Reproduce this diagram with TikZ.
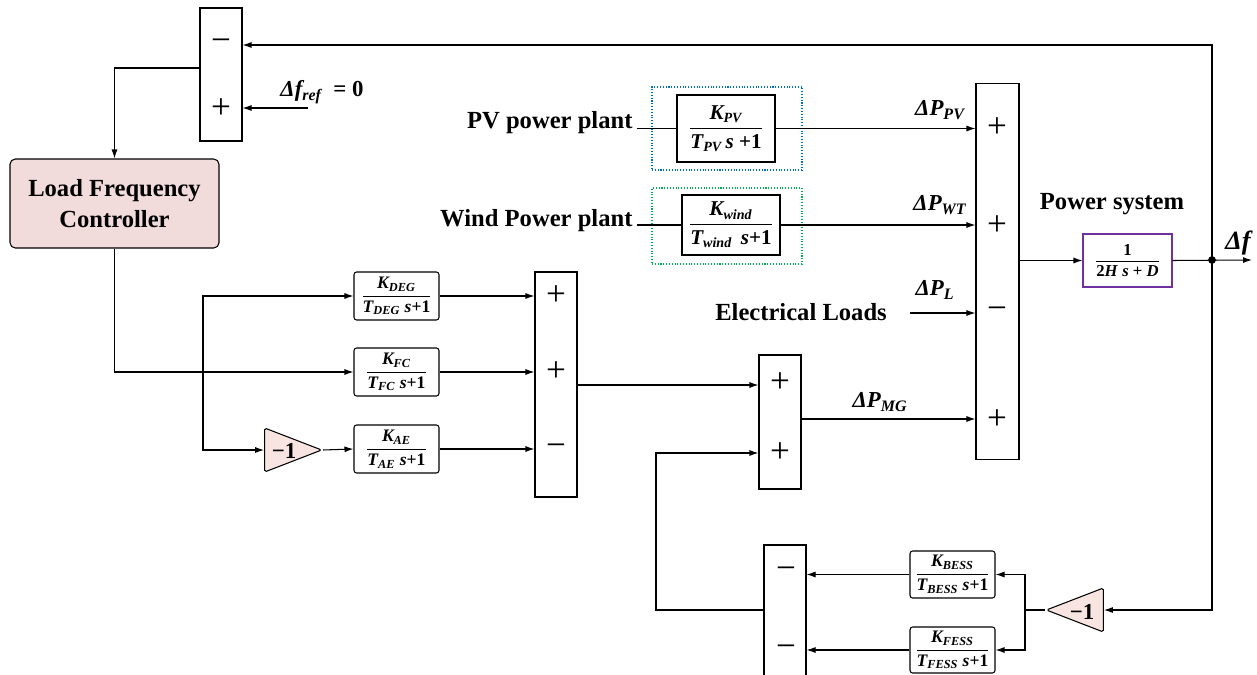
\documentclass[tikz,border=0pt]{standalone}
\usepackage{amsmath}
\usepackage{fontspec}
\setmainfont{Liberation Serif}
\usetikzlibrary{arrows.meta,shapes.geometric,calc}
\definecolor{lfcpink}{HTML}{F2DCDB}
\definecolor{gainpink}{HTML}{F8E5E2}
\definecolor{pvblue}{HTML}{0070C0}
\definecolor{windgreen}{HTML}{00B050}
\definecolor{pspurple}{HTML}{7030A0}
\newcommand\sbs[1]{\textsubscript{#1}}
\newcommand\ffrac[2]{$\dfrac{\text{#1}}{\text{#2}}$}
\begin{document}
\begin{tikzpicture}[x=0.02cm,y=-0.02cm, line width=0.6pt,
  >={Latex[length=1.8mm,width=1.2mm]},
  summer/.style={draw, minimum width=0.84cm, inner sep=0pt},
  sgn/.style={font=\fontsize{20}{20}\selectfont, inner sep=0pt},
  tfbox/.style={draw, rounded corners=1.5pt, minimum width=1.7cm, inner sep=0pt, font=\fontsize{10}{12}\selectfont\bfseries\itshape},
  plantbox/.style={draw, minimum width=1.96cm, inner sep=0pt, font=\fontsize{12}{14}\selectfont\bfseries\itshape},
  lbl/.style={font=\fontsize{14}{17.6}\selectfont\bfseries, inner sep=0pt},
  dlbl/.style={font=\fontsize{13}{15}\selectfont\bfseries\itshape, inner sep=0pt},
  gtxt/.style={font=\fontsize{13}{13}\selectfont\bfseries, inner sep=0pt},
  gain/.style={draw, fill=gainpink, isosceles triangle, isosceles triangle stretches, minimum width=0.88cm, minimum height=1.14cm, inner sep=0pt, rounded corners=1pt},
  ]
\clip (0,0) rectangle (1257,675);

% top summer
\node[summer, minimum height=2.66cm] (sA) at (221,74.5) {};
\node[sgn] at (221,45) {−};
\node[sgn] at (221,109) {+};
\node[dlbl] (fref) at (322,92) {Δf\sbs{ref}\ \ \textup{= 0}};
\coordinate (fin) at (308,108);

% LFC
\node[draw, fill=lfcpink, rounded corners=3pt, minimum width=4.18cm, minimum height=1.78cm, align=center, lbl] (lfc) at (114.5,203.5) {Load Frequency\\Controller};

% transfer functions
\node[tfbox, minimum height=0.96cm] (deg) at (396.5,296) {\ffrac{K\sbs{DEG}}{T\sbs{DEG} s\textup{+1}}};
\node[tfbox, minimum height=0.96cm] (fc) at (396.5,372) {\ffrac{K\sbs{FC}}{T\sbs{FC} s\textup{+1}}};
\node[tfbox, minimum height=0.96cm] (ae) at (396.5,449) {\ffrac{K\sbs{AE}}{T\sbs{AE} s\textup{+1}}};
\node[gain, anchor=apex] (gA) at (323,450) {};
\node[gtxt] at (284,451) {−1};
\coordinate (br) at (203,371);

% summer 2
\node[summer, minimum height=4.5cm] (s2) at (556,384.5) {};
\node[sgn] at (556,296) {+};
\node[sgn] at (556,372) {+};
\node[sgn] at (556,450) {−};

% summer 3
\node[summer, minimum height=2.68cm] (s3) at (780,422) {};
\node[sgn] at (780,383) {+};
\node[sgn] at (780,453) {+};

% summer 4
\node[summer, minimum height=3.0cm] (s4) at (785,620) {};
\node[sgn] at (786,573) {−};
\node[sgn] at (786,651) {−};
\coordinate (lp) at (656,610);

% storage
\node[tfbox, minimum height=0.94cm] (bess) at (952.5,574.5) {\ffrac{K\sbs{BESS}}{T\sbs{BESS} s\textup{+1}}};
\node[tfbox, minimum height=0.92cm] (fess) at (952.5,650) {\ffrac{K\sbs{FESS}}{T\sbs{FESS} s\textup{+1}}};
\node[gain, shape border rotate=180, anchor=apex] (gB) at (1045,610) {};
\node[gtxt] at (1082,612) {−1};
\coordinate (gsplit) at (1025,610);

% PV and wind
\node[draw=pvblue, densely dotted, minimum width=3cm, minimum height=1.66cm] (pvo) at (727,128.5) {};
\node[plantbox, minimum height=1.34cm] (pv) at (726,128.5) {\ffrac{K\sbs{PV}}{T\sbs{PV}\,s \textup{+1}}};
\node[draw=windgreen, densely dotted, minimum width=3cm, minimum height=1.52cm] (wdo) at (727,226) {};
\node[plantbox, minimum height=1.2cm] (wd) at (731,225) {\ffrac{K\sbs{wind}}{T\sbs{wind}\, s\textup{+1}}};
\node[lbl, anchor=base east] (pvt) at (633,129) {PV power plant};
\node[lbl, anchor=base east] (wt) at (633,227) {Wind Power plant};
\node[lbl] (elt) at (801,312) {Electrical Loads};
\coordinate (elin) at (910,313);

% big summer
\node[summer, minimum width=0.86cm, minimum height=7.54cm] (big) at (997.5,271.5) {};
\node[sgn] at (997,128) {+};
\node[sgn] at (997,226) {+};
\node[sgn] at (997,313) {−};
\node[sgn] at (997,420) {+};

% power system
\node[lbl] (pst) at (1112,204) {Power system};
\node[draw=pspurple, minimum width=1.78cm, minimum height=1.06cm, inner sep=0pt, font=\fontsize{9.5}{11}\selectfont\bfseries] (ps) at (1127.5,260.5) {$\dfrac{\text{1}}{\text{2\textit{H} \textit{s} + \textit{D}}}$};
\coordinate (J) at (1212,260);
\coordinate (fout) at (1252,260);

% labels
\node[dlbl] at (940,110) {ΔP\sbs{PV}};
\node[dlbl] at (940,205) {ΔP\sbs{WT}};
\node[dlbl] at (935,290) {ΔP\sbs{L}};
\node[dlbl] at (880,402) {ΔP\sbs{MG}};
\node[dlbl, font=\fontsize{15}{15}\selectfont\bfseries\itshape] at (1238,243) {Δf};

% connectors
\draw[->] (J) |- (sA.east |- 0,45);
\draw[->] (fin) -- (sA.east |- fin);
\draw[->] (sA.west |- 0,68) -| (lfc.north);
\draw[->] (lfc.south) |- (fc.west);
\draw[->] (br) |- (deg.west);
\draw[->] (br) |- (gA.west);
\draw[->] (gA.apex) -- (ae.west);
\draw[->] (deg.east) -- (s2.west |- deg.east);
\draw[->] (fc.east) -- (s2.west |- fc.east);
\draw[->] (ae.east) -- (s2.west |- ae.east);
\draw[->] (s2.east |- 0,385) -- (s3.west |- 0,385);
\draw[->] (s3.east |- 0,419) -- (big.west |- 0,419);
\draw[->] (s4.west |- lp) -- (lp) |- (s3.west |- 0,453);
\draw[->] (J) |- (gB.east);
\draw (gB.apex) -- (gsplit);
\draw[->] (gsplit) |- (bess.east);
\draw[->] (gsplit) |- (fess.east);
\draw[->] (bess.west) -- (s4.east |- bess.west);
\draw[->] (fess.west) -- (s4.east |- fess.west);
\draw ([xshift=2pt]pvt.east |- pv.west) -- (pv.west);
\draw[->] (pv.east) -- (big.west |- pv.east);
\draw ([xshift=2pt]wt.east |- wd.west) -- (wd.west);
\draw[->] (wd.east) -- (big.west |- wd.east);
\draw[->] (elin) -- (big.west |- elin);
\draw[->] (big.east |- ps.west) -- (ps.west);
\draw[->] (ps.east) -- (fout);
\fill (J) circle (2.2pt);
\end{tikzpicture}
\end{document}
